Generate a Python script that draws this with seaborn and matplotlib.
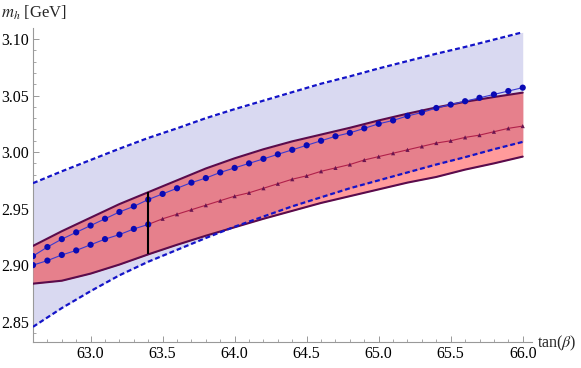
import numpy as np
import pandas as pd
import matplotlib
matplotlib.use("Agg")
import matplotlib.pyplot as plt
import seaborn as sns
from matplotlib.ticker import MultipleLocator, FormatStrFormatter

# band grid (tan beta)
x_band = [62.6, 62.8, 63.0, 63.2, 63.4, 63.6, 63.8, 64.0, 64.2,
          64.4, 64.6, 64.8, 65.0, 65.2, 65.4, 65.6, 65.8, 66.0]

# blue band (dashed limits)
blue_hi = [2.9725, 2.983, 2.993, 3.003, 3.0125, 3.021, 3.030, 3.038, 3.0455,
           3.053, 3.0605, 3.067, 3.074, 3.0805, 3.087, 3.093, 3.0995, 3.106]
blue_lo = [2.8454, 2.862, 2.877, 2.891, 2.903, 2.9135, 2.924, 2.934, 2.943,
           2.952, 2.960, 2.968, 2.975, 2.982, 2.989, 2.9955, 3.0025, 3.009]

# red band
red_hi = [2.917, 2.930, 2.942, 2.954, 2.9645, 2.975, 2.9855, 2.9945, 3.0025,
          3.0095, 3.0155, 3.0215, 3.028, 3.034, 3.0395, 3.0445, 3.0487, 3.0526]
red_lo = [2.8836, 2.8862, 2.8925, 2.9005, 2.9095, 2.918, 2.926, 2.9335, 2.941,
          2.948, 2.9550, 2.961, 2.967, 2.973, 2.978, 2.9845, 2.990, 2.996]

# point series, every 0.1 in tan beta
x_pts = np.round(np.linspace(62.6, 66.0, 35), 1)
upper_pts = [2.908, 2.916, 2.923, 2.929, 2.935, 2.941, 2.947, 2.952, 2.958,
             2.963, 2.968, 2.973, 2.977, 2.982, 2.986, 2.990, 2.994, 2.998,
             3.002, 3.006, 3.010, 3.014, 3.017, 3.021, 3.025, 3.028, 3.032,
             3.035, 3.039, 3.042, 3.045, 3.048, 3.051, 3.054, 3.057]
lower_pts = [2.900, 2.904, 2.909, 2.913, 2.918, 2.923, 2.927, 2.932, 2.936,
             2.941, 2.945, 2.949, 2.953, 2.957, 2.961, 2.964, 2.968, 2.972,
             2.976, 2.979, 2.983, 2.986, 2.989, 2.993, 2.996, 2.999, 3.002,
             3.005, 3.008, 3.010, 3.013, 3.015, 3.018, 3.021, 3.023]
x_cut = 63.4
x_ticks = [63.0, 63.5, 64.0, 64.5, 65.0, 65.5, 66.0]

sns.set_theme(style="ticks")
plt.rcParams['font.family'] = ['Liberation Serif', 'DejaVu Serif']
plt.rcParams['mathtext.fontset'] = 'stix'

bands = pd.DataFrame({'x': x_band, 'bhi': blue_hi, 'blo': blue_lo,
                      'rhi': red_hi, 'rlo': red_lo})
pts = pd.DataFrame({'x': x_pts, 'up': upper_pts, 'lo': lower_pts})
left = pts[pts.x <= x_cut]
right = pts[pts.x >= x_cut]

fig = plt.figure(figsize=(5.81, 3.68), dpi=100)
ax = fig.add_axes([0.0568, 0.0707, 0.859, 0.853])

# fills
ax.fill_between(bands.x, bands.blo, bands.bhi, color='#d9d9f1', lw=0, zorder=1)
ax.fill_between(bands.x, bands.rlo, bands.rhi, color='#ff9b9b', lw=0, zorder=2)
ov_lo = np.maximum(bands.rlo, bands.blo)
ov_hi = np.minimum(bands.rhi, bands.bhi)
ax.fill_between(bands.x, ov_lo, ov_hi, color='#e6808c', lw=0, zorder=3)

# band edges
for col in ['bhi', 'blo']:
    sns.lineplot(data=bands, x='x', y=col, ax=ax, color='#1414c8', lw=1.6,
                 linestyle=(0, (2.2, 1.3)), zorder=5)
for col in ['rhi', 'rlo']:
    sns.lineplot(data=bands, x='x', y=col, ax=ax, color='#5a0b4c', lw=1.5, zorder=4)

# point series
sns.lineplot(data=pts, x='x', y='up', ax=ax, color='#3a3ad0', lw=0.8, zorder=6)
sns.lineplot(data=left, x='x', y='lo', ax=ax, color='#3a3ad0', lw=0.8, zorder=6)
sns.lineplot(data=right, x='x', y='lo', ax=ax, color='#b0204a', lw=0.8, zorder=6)
sns.scatterplot(data=pts, x='x', y='up', ax=ax, color='#0a0ab4', s=20,
                edgecolor='none', zorder=7)
sns.scatterplot(data=left, x='x', y='lo', ax=ax, color='#0a0ab4', s=20,
                edgecolor='none', zorder=7)
sns.scatterplot(data=right[right.x > x_cut], x='x', y='lo', ax=ax, color='#6a1450',
                marker='^', s=9, edgecolor='none', zorder=7)

# vertical segment
i = x_band.index(x_cut)
ax.vlines(x_cut, red_lo[i], red_hi[i], color='black', lw=1.5, zorder=8)

ax.set_xlim(62.6, 66.065)
ax.set_ylim(2.832, 3.1097)
ax.set_xticks(x_ticks)
ax.xaxis.set_minor_locator(MultipleLocator(0.1))
ax.yaxis.set_major_locator(MultipleLocator(0.05))
ax.yaxis.set_minor_locator(MultipleLocator(0.01))
ax.xaxis.set_major_formatter(FormatStrFormatter('%.1f'))
ax.yaxis.set_major_formatter(FormatStrFormatter('%.2f'))

sns.despine(ax=ax)
for s in ['left', 'bottom']:
    ax.spines[s].set_color('#999999')
    ax.spines[s].set_linewidth(0.8)
ax.tick_params(which='major', direction='in', length=4, width=0.7,
               color='#999999', labelsize=11.5, labelcolor='black', pad=3)
ax.tick_params(which='minor', direction='in', length=2.3, width=0.6, color='#999999')
ax.set_xlabel('')
ax.set_ylabel('')

fig.text(0.002, 0.965, r'$m_h$ [GeV]', fontsize=12, ha='left', va='center')
fig.text(0.925, 0.068, r'tan($\beta$)', fontsize=11.5, ha='left', va='center')

fig.savefig('out.png', dpi=100)
